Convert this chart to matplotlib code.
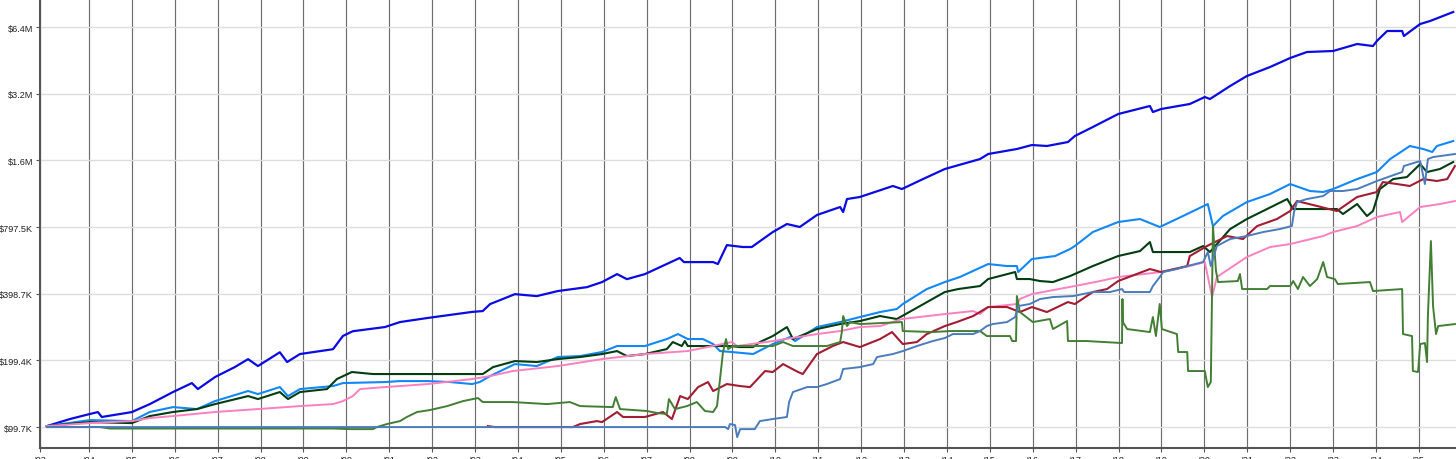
import matplotlib
matplotlib.use("Agg")
import matplotlib.pyplot as plt
from matplotlib.ticker import NullLocator

plt.rcParams['font.family'] = ['Liberation Sans', 'DejaVu Sans']

# growth of the starting balance, in $K (decimal years)
blue_t = [1993.02, 1993.56, 1994.02, 1994.21, 1994.30, 1995.00, 1995.42, 1995.96, 1996.40, 1996.54,
          1996.94, 1997.40, 1997.71, 1997.94, 1998.45, 1998.62, 1998.92, 1999.69, 1999.92, 2000.15,
          2000.90, 2001.25, 2001.90, 2002.93, 2003.18, 2003.35, 2003.93, 2004.44, 2004.93, 2005.61,
          2005.96, 2006.31, 2006.54, 2006.96, 2007.77, 2007.87, 2008.55, 2008.66, 2008.87, 2009.24,
          2009.45, 2009.94, 2010.27, 2010.57, 2010.97, 2011.51, 2011.58, 2011.67, 2011.97, 2012.74,
          2012.95, 2013.44, 2013.95, 2014.77, 2014.96, 2015.63, 2015.98, 2016.33, 2016.82, 2016.98,
          2017.40, 2017.99, 2018.73, 2018.80, 2018.99, 2019.66, 2020.01, 2020.13, 2020.60, 2020.99,
          2021.53, 2022.00, 2022.39, 2023.00, 2023.56, 2023.93, 2024.02, 2024.26, 2024.61, 2024.65,
          2025.03, 2025.26, 2025.80]
blue_v = [100.7, 108.4, 114.2, 116.5, 110.7, 116.5, 126.6, 143.5, 157.5, 148.0,
          167.7, 186.0, 202.0, 188.0, 217.0, 196.0, 213.0, 224.0, 257.0, 270.0,
          282.0, 297.0, 310.0, 330.0, 333.0, 358.0, 397.0, 389.0, 410.0, 427.0,
          450.0, 489.0, 464.0, 489.0, 578.0, 554.0, 554.0, 543.0, 661.0, 648.0,
          648.0, 757.0, 823.0, 798.0, 904.0, 982.0, 932.0, 1067, 1090, 1222,
          1184, 1313, 1458, 1617, 1704, 1795, 1871, 1852, 1930, 2054,
          2256, 2582, 2807, 2637, 2720, 2866, 3082, 3018, 3455, 3833,
          4209, 4623, 4920, 4972, 5347, 5236, 5516, 6121, 6121, 5810,
          6583, 6791, 7458]

lblue_t = [1993.02, 1994.02, 1995.00, 1995.42, 1995.96, 1996.52, 1996.94, 1997.71, 1997.94, 1998.45,
           1998.64, 1998.92, 1999.69, 1999.92, 2000.90, 2001.25, 2001.90, 2002.42, 2002.93, 2003.11,
           2003.35, 2003.93, 2004.44, 2004.93, 2005.45, 2005.96, 2006.31, 2006.96, 2007.47, 2007.73,
           2007.96, 2008.31, 2008.55, 2008.71, 2008.99, 2009.48, 2009.94, 2010.34, 2010.46, 2010.97,
           2011.51, 2011.97, 2012.44, 2012.83, 2012.97, 2013.53, 2013.95, 2014.30, 2014.96, 2015.40,
           2015.63, 2015.66, 2015.98, 2016.52, 2016.87, 2016.98, 2017.40, 2017.99, 2018.50, 2018.96,
           2019.50, 2020.08, 2020.20, 2020.43, 2020.99, 2021.53, 2022.00, 2022.46, 2022.77, 2023.00,
           2023.56, 2024.02, 2024.33, 2024.79, 2025.10, 2025.31, 2025.42, 2025.80]
lblue_v = [100.7, 107.2, 106.1, 116.6, 122.7, 120.2, 130.6, 145.0, 140.5, 151.1,
           137.6, 148.0, 152.7, 157.5, 159.2, 160.8, 160.8, 159.2, 155.9, 159.2,
           169.4, 191.9, 188.0, 206.5, 208.6, 217.5, 231.5, 231.5, 248.9, 262.2,
           248.9, 248.9, 236.3, 219.7, 217.5, 213.0, 236.3, 254.1, 243.8, 282.0,
           297.0, 312.9, 329.6, 340.1, 358.2, 418.6, 450.2, 474.3, 542.9, 531.7,
           531.7, 499.6, 571.9, 590.0, 634.5, 654.6, 757.2, 840.2, 866.8, 797.6,
           894.2, 1013, 805.9, 894.2, 1034, 1124, 1247, 1160, 1148, 1184,
           1313, 1413, 1617, 1852, 1795, 1740, 1852, 1950]

dgreen_t = [1993.02, 1994.02, 1995.00, 1995.42, 1995.96, 1996.52, 1996.94, 1997.71, 1997.94, 1998.45,
            1998.64, 1998.92, 1999.55, 1999.78, 2000.13, 2000.62, 2003.18, 2003.42, 2003.93, 2004.44,
            2004.93, 2005.45, 2005.96, 2006.31, 2006.54, 2006.96, 2007.47, 2007.61, 2007.82, 2007.89,
            2007.96, 2008.94, 2009.18, 2009.48, 2009.64, 2009.94, 2010.27, 2010.41, 2010.97, 2011.51,
            2011.97, 2012.44, 2012.83, 2013.37, 2013.95, 2014.26, 2014.77, 2014.96, 2015.59, 2015.63,
            2015.93, 2016.17, 2016.47, 2016.87, 2017.40, 2017.99, 2018.50, 2018.73, 2018.80, 2019.66,
            2019.97, 2020.13, 2020.60, 2020.99, 2021.46, 2021.93, 2022.07, 2023.09, 2023.23, 2023.56,
            2023.79, 2023.93, 2024.09, 2024.40, 2024.72, 2025.03, 2025.19, 2025.49, 2025.80]
dgreen_v = [100.7, 105.0, 103.9, 111.8, 116.6, 120.2, 126.6, 137.6, 133.4, 143.5,
            133.4, 143.5, 148.0, 164.2, 176.7, 173.0, 173.0, 186.0, 198.0, 196.0,
            202.2, 206.5, 213.0, 219.7, 208.6, 213.0, 224.3, 241.3, 231.5, 243.8,
            231.5, 231.5, 229.0, 229.0, 241.3, 256.8, 282.0, 248.9, 276.2, 290.9,
            300.1, 316.2, 306.5, 350.8, 405.8, 418.6, 431.9, 464.5, 499.6, 464.5,
            464.5, 454.9, 450.2, 479.2, 531.7, 590.0, 621.4, 682.4, 615.0, 615.0,
            654.6, 615.0, 781.2, 866.8, 961.7, 1067, 961.7, 961.7, 913.1, 1013,
            894.2, 942.1, 1184, 1313, 1341, 1535, 1413, 1458, 1568]

red_t = [2003.30, 2003.46, 2005.28, 2005.45, 2005.84, 2005.96, 2006.31, 2006.45, 2006.96, 2007.38,
         2007.59, 2007.78, 2007.96, 2008.20, 2008.43, 2008.55, 2008.87, 2009.18, 2009.41, 2009.76,
         2009.94, 2010.18, 2010.53, 2010.64, 2010.97, 2011.34, 2011.58, 2011.97, 2012.44, 2012.72,
         2012.97, 2013.30, 2013.53, 2013.95, 2014.23, 2014.61, 2014.96, 2015.40, 2015.70, 2015.98,
         2016.33, 2016.82, 2016.98, 2017.40, 2017.73, 2017.99, 2018.73, 2018.99, 2019.60, 2019.66,
         2020.06, 2020.53, 2020.90, 2021.23, 2021.69, 2022.00, 2022.16, 2022.63, 2023.09, 2023.56,
         2024.02, 2024.16, 2024.49, 2024.79, 2025.10, 2025.42, 2025.66, 2025.84]
red_v = [100.7, 99.7, 99.7, 102.9, 106.1, 105.0, 116.6, 110.7, 110.7, 116.6,
         108.4, 137.6, 133.4, 151.1, 159.2, 145.0, 155.9, 152.7, 151.1, 178.5,
         176.7, 191.9, 176.7, 173.0, 213.0, 231.5, 241.3, 229.0, 248.9, 267.7,
         236.3, 241.3, 262.2, 284.9, 297.0, 316.2, 347.2, 347.2, 329.6, 347.2,
         329.6, 365.7, 358.2, 405.8, 418.6, 454.9, 515.4, 499.6, 531.7, 590.0,
         654.6, 726.3, 704.0, 805.9, 866.8, 942.1, 1045, 992.1, 942.1, 1090,
         1148, 1273, 1247, 1222, 1313, 1287, 1313, 1504]

pink_t = [1993.02, 1994.02, 1995.00, 1995.42, 1995.96, 1996.94, 1997.94, 1998.92, 1999.69, 1999.92,
          2000.15, 2000.32, 2000.90, 2001.25, 2001.90, 2002.93, 2003.35, 2003.88, 2004.93, 2005.96,
          2006.96, 2007.96, 2008.99, 2009.11, 2009.94, 2010.97, 2011.51, 2011.97, 2012.44, 2012.95,
          2013.95, 2014.61, 2014.77, 2014.96, 2015.63, 2015.70, 2015.98, 2016.98, 2017.57, 2017.99,
          2018.99, 2019.66, 2020.01, 2020.18, 2020.29, 2020.99, 2021.53, 2022.00, 2022.77, 2023.00,
          2023.56, 2024.02, 2024.56, 2024.61, 2025.03, 2025.49, 2025.84]
pink_v = [100.7, 103.9, 106.1, 109.5, 111.8, 116.6, 120.2, 124.0, 126.6, 130.6,
          137.6, 148.0, 151.1, 152.7, 155.9, 164.2, 169.4, 178.5, 188.0, 202.2,
          213.0, 219.7, 241.3, 231.5, 243.8, 262.2, 270.5, 282.0, 284.9, 306.5,
          322.8, 333.0, 322.8, 347.2, 358.2, 377.3, 397.4, 431.9, 454.9, 474.3,
          499.6, 531.7, 554.3, 385.2, 474.3, 583.9, 647.8, 668.4, 726.3, 757.2,
          805.9, 884.9, 932.2, 840.2, 982.0, 1013, 1045]

steel_t = [1993.02, 2008.83, 2008.90, 2008.94, 2009.06, 2009.11, 2009.18, 2009.52, 2009.64, 2009.94,
           2010.27, 2010.32, 2010.41, 2010.74, 2010.97, 2011.20, 2011.51, 2011.58, 2011.97, 2012.28,
           2012.37, 2012.74, 2012.97, 2013.30, 2013.67, 2013.95, 2014.14, 2014.61, 2014.77, 2014.93,
           2015.07, 2015.40, 2015.59, 2015.66, 2015.93, 2016.17, 2016.47, 2016.94, 2017.40, 2017.80,
           2018.08, 2018.13, 2018.73, 2018.80, 2018.96, 2019.04, 2019.36, 2019.60, 2019.97, 2020.08,
           2020.15, 2020.29, 2020.60, 2020.99, 2021.37, 2021.76, 2022.04, 2022.09, 2022.16, 2022.39,
           2022.77, 2022.93, 2023.23, 2023.56, 2024.02, 2024.61, 2024.65, 2025.03, 2025.14, 2025.21,
           2025.33, 2025.84]
steel_v = [99.7, 99.7, 97.6, 102.9, 101.8, 89.8, 97.6, 97.6, 106.1, 108.4,
           110.7, 129.3, 143.5, 151.1, 151.1, 155.9, 164.2, 182.3, 186.0, 191.9,
           206.5, 213.0, 219.7, 231.5, 243.8, 251.5, 262.2, 262.2, 270.5, 284.9,
           290.9, 297.0, 312.9, 350.8, 358.2, 377.3, 385.2, 389.2, 405.8, 405.8,
           418.6, 405.8, 405.8, 431.9, 474.3, 499.6, 515.4, 531.7, 554.3, 615.0,
           531.7, 654.6, 704.0, 726.3, 757.2, 781.2, 805.9, 932.2, 1034, 1067,
           1101, 1160, 1160, 1184, 1287, 1413, 1504, 1584, 1247, 1617,
           1651, 1704]

green_t = [1993.02, 1994.26, 1994.49, 1999.69, 2000.08, 2000.62, 2000.71, 2000.95, 2001.25, 2001.41,
           2001.65, 2001.95, 2002.35, 2002.72, 2003.07, 2003.18, 2003.88, 2004.68, 2005.21, 2005.45,
           2006.21, 2006.28, 2006.38, 2007.01, 2007.24, 2007.47, 2007.52, 2007.66, 2007.94, 2008.17,
           2008.36, 2008.55, 2008.64, 2008.71, 2008.78, 2008.85, 2008.90, 2009.01, 2009.94, 2010.18,
           2010.41, 2011.20, 2011.51, 2011.55, 2011.58, 2011.67, 2011.74, 2011.97, 2012.95, 2012.97,
           2013.67, 2014.07, 2014.77, 2014.93, 2015.47, 2015.52, 2015.61, 2015.63, 2015.70, 2016.00,
           2016.40, 2016.47, 2016.80, 2016.82, 2017.26, 2018.08, 2018.09, 2018.10, 2018.20, 2018.73,
           2018.80, 2018.87, 2018.96, 2019.01, 2019.36, 2019.39, 2019.60, 2019.62, 2020.01, 2020.08,
           2020.15, 2020.20, 2020.27, 2020.32, 2020.78, 2020.83, 2020.88, 2021.46, 2021.53, 2022.00,
           2022.07, 2022.18, 2022.30, 2022.46, 2022.63, 2022.77, 2022.86, 2023.04, 2023.11, 2023.86,
           2023.93, 2024.61, 2024.63, 2024.84, 2024.86, 2024.98, 2025.03, 2025.14, 2025.19, 2025.21,
           2025.28, 2025.33, 2025.40, 2025.45, 2025.84]
green_v = [99.7, 99.7, 98.2, 98.2, 97.6, 97.6, 99.7, 102.9, 106.1, 110.7,
           116.6, 119.0, 124.0, 130.6, 134.8, 129.3, 129.3, 126.6, 129.3, 124.0,
           122.7, 136.2, 120.2, 117.8, 115.4, 114.2, 133.4, 120.2, 124.0, 129.3,
           117.8, 116.6, 124.0, 164.2, 217.5, 248.9, 224.3, 231.5, 231.5, 241.3,
           231.5, 231.5, 241.3, 267.7, 316.2, 284.9, 297.0, 290.9, 297.0, 270.5,
           267.7, 270.5, 270.5, 256.8, 256.8, 243.8, 243.8, 389.2, 329.6, 297.0,
           306.5, 276.2, 300.1, 243.8, 243.8, 238.8, 377.3, 297.0, 276.2, 267.7,
           312.9, 256.8, 358.2, 276.2, 262.2, 217.5, 217.5, 178.5, 178.5, 151.1,
           159.2, 805.9, 504.8, 450.2, 454.9, 489.2, 418.6, 418.6, 431.9, 431.9,
           454.9, 418.6, 474.3, 431.9, 464.5, 554.3, 474.3, 464.5, 441.0, 450.2,
           410.0, 418.6, 262.2, 256.8, 178.5, 176.7, 236.3, 238.8, 196.0, 316.2,
           689.5, 350.8, 262.2, 284.9, 290.9]

y_ticks = [99.7, 199.4, 398.7, 797.5, 1595, 3190, 6380]
y_labels = ['$99.7K', '$199.4K', '$398.7K', '$797.5K', '$1.6M', '$3.2M', '$6.4M']
years = list(range(1994, 2026))

fig = plt.figure(figsize=(14.56, 4.6), dpi=100)
ax = fig.add_axes([40 / 1456, 11 / 460, 1416 / 1456, 449 / 460])

ax.plot(blue_t, blue_v, color='#0b0be3', lw=1.6)
ax.plot(lblue_t, lblue_v, color='#1287f7', lw=1.5)
ax.plot(dgreen_t, dgreen_v, color='#033d12', lw=1.5)
ax.plot(pink_t, pink_v, color='#fa80bf', lw=1.4)
ax.plot(red_t, red_v, color='#a21c32', lw=1.5)
ax.plot(green_t, green_v, color='#427f35', lw=1.4)
ax.plot(steel_t, steel_v, color='#4a7cbc', lw=1.4)

ax.set_yscale('log')
xmin, xmax = 1992.86, 2025.865
ax.set_xlim(xmin, xmax)
ax.set_ylim(80.2, 8537)

ax.set_yticks(y_ticks)
ax.set_yticklabels(y_labels)
ax.yaxis.set_minor_locator(NullLocator())
ax.set_xticks([xmin] + years)
ax.set_xticklabels(["'" + str(y)[2:] for y in [1993] + years])

ax.grid(axis='y', color='#dddddd', lw=1)
ax.grid(axis='x', color='#6e6e6e', lw=0.85)
ax.set_axisbelow(True)

for s in ['top', 'right']:
    ax.spines[s].set_visible(False)
for s in ['left', 'bottom']:
    ax.spines[s].set_color('#555555')
    ax.spines[s].set_linewidth(1.5)

ax.tick_params(axis='both', length=3, color='#555555', labelsize=6.6, pad=2, labelcolor='#222222')

fig.savefig('out.png', dpi=100)
